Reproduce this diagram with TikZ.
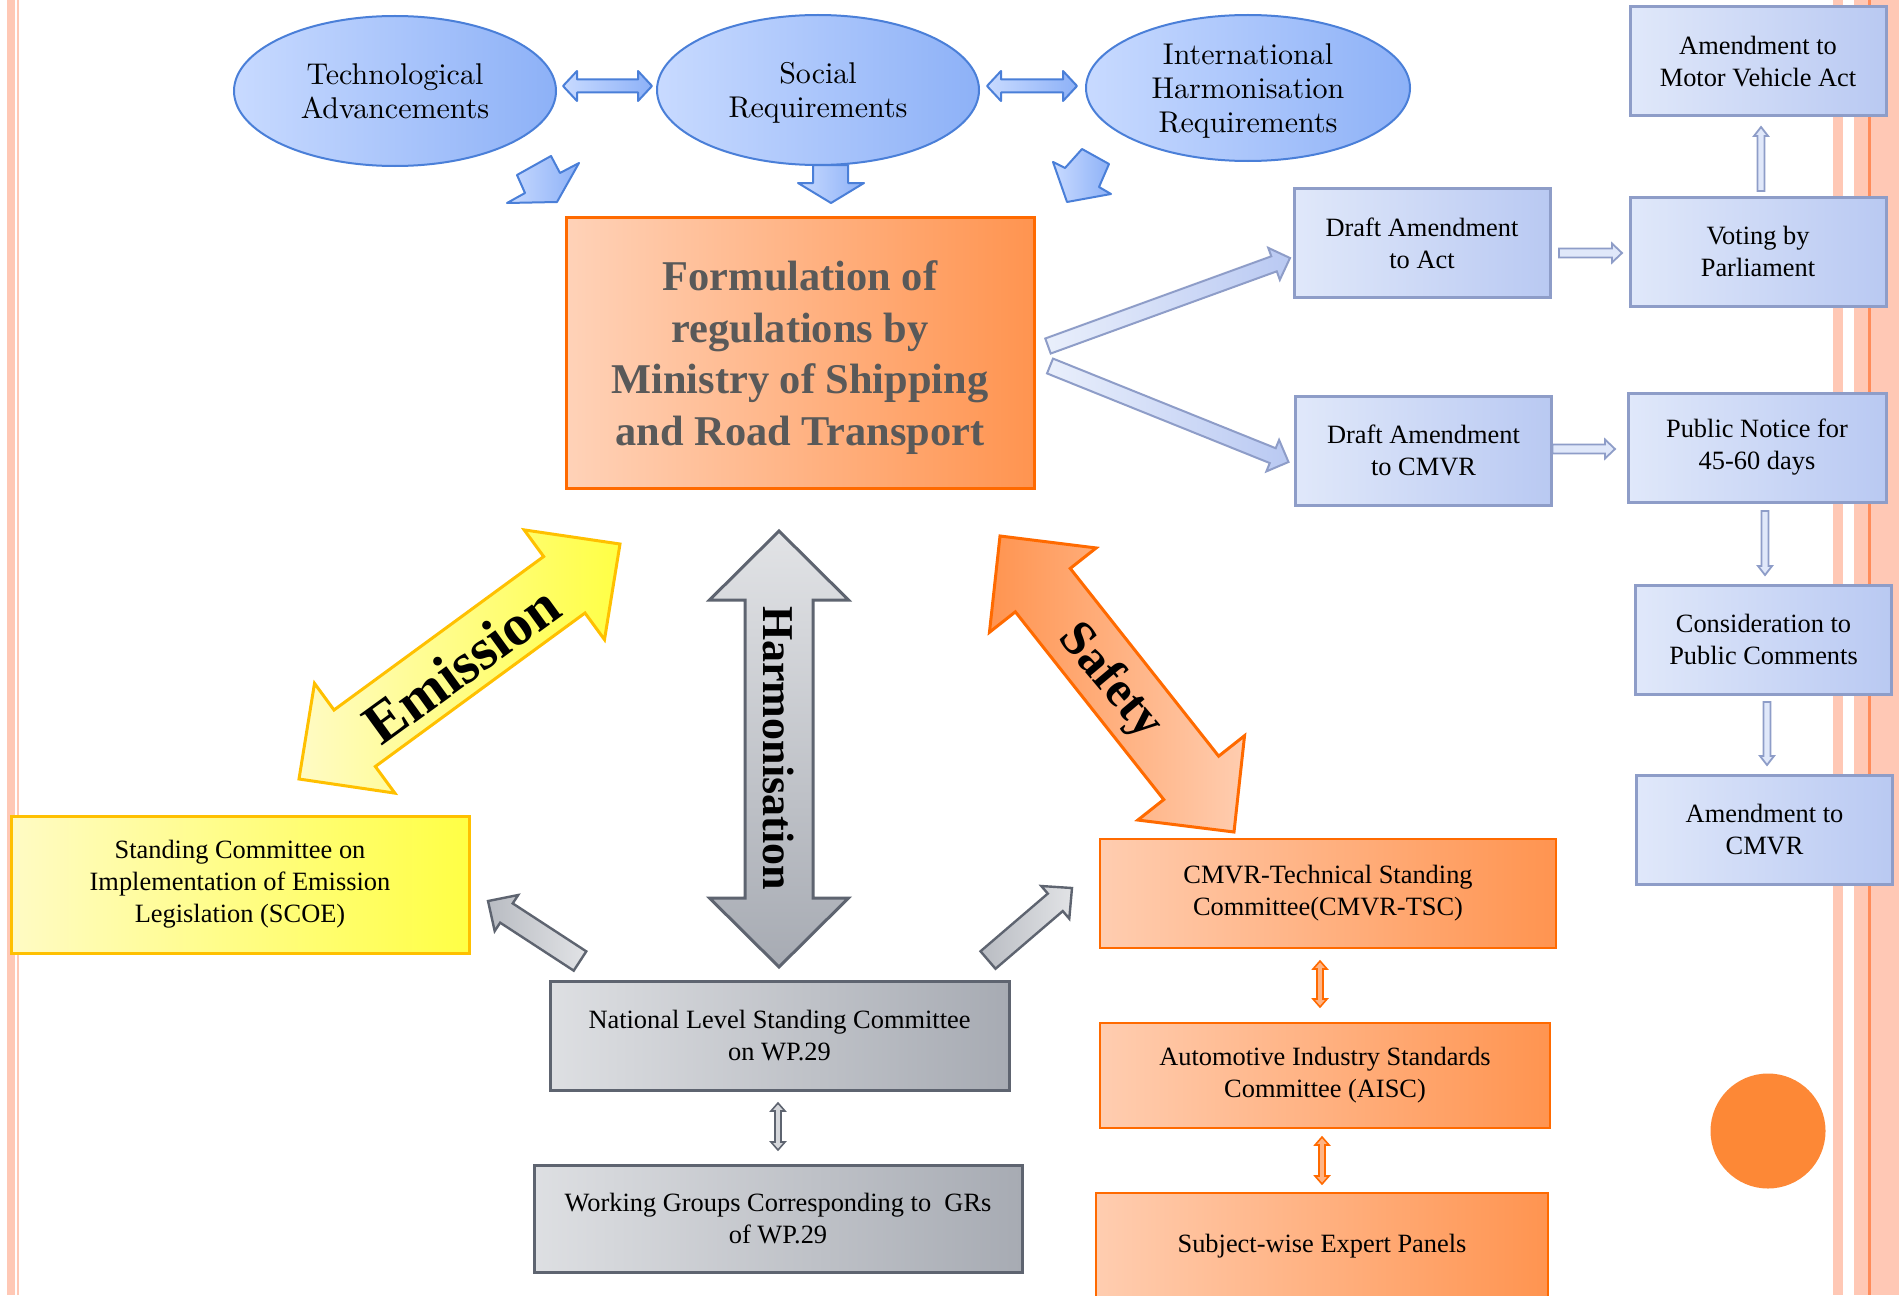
\documentclass[tikz,border=0pt]{standalone}
\usepackage{fontspec}
\setmainfont{Liberation Serif}
\newfontfamily\lmfont{lmroman10-regular.otf}
\usetikzlibrary{shapes.geometric,calc}
\definecolor{ellL}{HTML}{C8DAFF}
\definecolor{ellR}{HTML}{8DB1F7}
\definecolor{ellB}{HTML}{4A7FD8}
\definecolor{bbL}{HTML}{E0E8FA}
\definecolor{bbR}{HTML}{B9C9F2}
\definecolor{bbB}{HTML}{8E9DC8}
\definecolor{oL}{HTML}{FFCDB0}
\definecolor{oR}{HTML}{FF9450}
\definecolor{oB}{HTML}{FF6A00}
\definecolor{yL}{HTML}{FFFBC4}
\definecolor{yR}{HTML}{FFFF45}
\definecolor{yB}{HTML}{FFC000}
\definecolor{gL}{HTML}{D5D7DB}
\definecolor{gR}{HTML}{A7ABB3}
\definecolor{gB}{HTML}{5E6470}
\definecolor{circ}{HTML}{FD8836}
\definecolor{formT}{HTML}{595959}
\definecolor{pinkb}{HTML}{FFC8B5}
\definecolor{orgline}{HTML}{FF8C5A}
\newcommand\nodepth[1]{\raisebox{0pt}[\height][0pt]{#1}}
% #1 style, #2 from, #3 to, #4 head length, #5 head half width, #6 shaft half width (px)
\newcommand\fatdbl[6]{%
  \path let \p1=(#2), \p2=(#3) in \pgfextra{\xdef\fax{\x1}\xdef\fay{\y1}\xdef\fbx{\x2}\xdef\fby{\y2}};%
  \pgfmathsetmacro\faang{atan2((\fby)-(\fay),(\fbx)-(\fax))}%
  \pgfmathsetmacro\falen{veclen((\fbx)-(\fax),(\fby)-(\fay))}%
  \pgfmathsetmacro\fah{#4*0.5}%
  \pgfmathsetmacro\faW{#5*0.5}%
  \pgfmathsetmacro\faw{#6*0.5}%
  \pgfmathsetmacro\fam{\falen-\fah}%
  \begin{scope}[shift={(#2)},rotate=\faang]
    \draw[#1] (0pt,0pt) -- (\fah pt,\faW pt) -- (\fah pt,\faw pt) -- (\fam pt,\faw pt)
      -- (\fam pt,\faW pt) -- (\falen pt,0pt) -- (\fam pt,-\faW pt) -- (\fam pt,-\faw pt)
      -- (\fah pt,-\faw pt) -- (\fah pt,-\faW pt) -- cycle;
  \end{scope}}
\newcommand\fatone[6]{%
  \path let \p1=(#2), \p2=(#3) in \pgfextra{\xdef\fax{\x1}\xdef\fay{\y1}\xdef\fbx{\x2}\xdef\fby{\y2}};%
  \pgfmathsetmacro\faang{atan2((\fby)-(\fay),(\fbx)-(\fax))}%
  \pgfmathsetmacro\falen{veclen((\fbx)-(\fax),(\fby)-(\fay))}%
  \pgfmathsetmacro\fah{#4*0.5}%
  \pgfmathsetmacro\faW{#5*0.5}%
  \pgfmathsetmacro\faw{#6*0.5}%
  \pgfmathsetmacro\fam{\falen-\fah}%
  \begin{scope}[shift={(#2)},rotate=\faang]
    \draw[#1] (0pt,\faw pt) -- (\fam pt,\faw pt) -- (\fam pt,\faW pt) -- (\falen pt,0pt)
      -- (\fam pt,-\faW pt) -- (\fam pt,-\faw pt) -- (0pt,-\faw pt) -- cycle;
  \end{scope}}
\begin{document}
\begin{tikzpicture}[x=0.5pt,y=-0.5pt,
  every node/.style={outer sep=0pt,inner sep=0pt,align=center},
  ell/.style={ellipse,draw=ellB,line width=1pt,left color=ellL,right color=ellR,
    minimum width=161pt,minimum height=75pt,font=\lmfont\fontsize{15}{17}\selectfont},
  bbox/.style={rectangle,draw=bbB,line width=1.5pt,left color=bbL,right color=bbR,
    minimum width=128pt,minimum height=54.5pt,font=\fontsize{13.2}{16}\selectfont},
  obox/.style={rectangle,draw=oB,line width=1.3pt,left color=oL,right color=oR,
    font=\fontsize{13.2}{16}\selectfont},
  ybox/.style={rectangle,draw=yB,line width=1.5pt,left color=yL,right color=yR,
    font=\fontsize{13.2}{16}\selectfont},
  gbox/.style={rectangle,draw=gB,line width=1.5pt,left color=gL!80!white,right color=gR,
    font=\fontsize{13.2}{16}\selectfont},
  bluearr/.style={draw=ellB,line width=1pt,left color=ellL,right color=ellR,line join=round},
  thinarr/.style={draw=bbB,line width=0.9pt,fill=bbL,line join=miter},
  fatblue/.style={draw=bbB,line width=1pt,left color=bbL!70!white,right color=bbR,line join=miter},
  greyarr/.style={draw=gB,line width=1.2pt,left color=gR!80!white,right color=gL!70!white,line join=miter},
  thinorange/.style={draw=oB,line width=0.8pt,fill=oR!70!white},
  thingrey/.style={draw=gB,line width=0.8pt,fill=gL},
  emisarr/.style={draw=yB,line width=1.5pt,left color=yL,right color=yR,line join=miter},
  harmarr/.style={draw=gB,line width=1.5pt,top color=gL!70!white,bottom color=gR,line join=miter},
  safearr/.style={draw=oB,line width=1.5pt,left color=oR,right color=oL,line join=miter},
  biglabel/.style={font=\bfseries\fontsize{#1}{#1}\selectfont,text=black}
]
\useasboundingbox (0,0) rectangle (1899,1295);
\fill[white] (0,0) rectangle (1899,1295);
% page borders
\fill[pinkb] (7,0) rectangle (15,1295);
\fill[pinkb] (17,0) rectangle (19,1295);
\fill[pinkb] (1833,0) rectangle (1843,1295);
\fill[pinkb] (1854,0) rectangle (1899,1295);
\fill[orgline] (1868,0) rectangle (1871,1295);

% ellipses
\node[ell] (tech) at (395,91) {Technological\\Advancements};
\node[ell] (soc) at (818,90) {Social\\\nodepth{Requirements}};
\node[ell,minimum height=73pt,minimum width=162pt] (intl) at (1248,88) {International\\Harmonisation\\\nodepth{Requirements}};

% main box
\node[rectangle,draw=oB,line width=1.5pt,left color=oL!90!white,right color=oR,
  minimum width=234pt,minimum height=135.5pt] (form) at (800,352.5) {};
\node[text=formT,font=\bfseries\fontsize{21.2}{25.7}\selectfont] (formtext) at ($(form.center)+(0,5)$)
  {Formulation of\\regulations by\\Ministry of Shipping\\and Road Transport};

% right column
\node[bbox] (mva) at (1758,61.5) {Amendment to\\Motor Vehicle Act};
\node[bbox] (vote) at (1758,251.5) {Voting by\\Parliament};
\node[bbox] (dact) at (1422,243) {Draft Amendment\\to Act};
\node[bbox] (dcmvr) at (1423.5,450.5) {Draft Amendment\\to CMVR};
\node[bbox,minimum width=129pt] (pubn) at (1757,447.5) {Public Notice for\\45-60 days};
\node[bbox] (cons) at (1763.5,639.5) {Consideration to\\Public Comments};
\node[bbox] (acmvr) at (1764.5,829.5) {Amendment to\\CMVR};

% lower boxes
\node[ybox,minimum width=229pt,minimum height=68.5pt] (scoe) at (240,884.5)
  {Standing Committee on\\Implementation of Emission\\Legislation (SCOE)};
\node[gbox,minimum width=229.5pt,minimum height=54.5pt] (nat) at (779.5,1035.5)
  {National Level Standing Committee\\on WP.29};
\node[gbox,minimum width=244pt,minimum height=53.5pt] (wg) at (778,1218.5)
  {Working Groups Corresponding to\ \ GRs\\of WP.29};
\node[obox,minimum width=228pt,minimum height=54.5pt] (tsc) at (1328,893.5)
  {CMVR-Technical Standing\\Committee(CMVR-TSC)};
\node[obox,minimum width=225pt,minimum height=52.5pt] (aisc) at (1325,1075.5)
  {Automotive Industry Standards\\Committee (AISC)};
\node[obox,minimum width=226pt,minimum height=53.5pt] (swep) at (1322,1246.5)
  {Subject-wise Expert Panels};
\node[circle,fill=circ,minimum size=57.5pt] (dot) at (1768,1131) {};

% arrows between ellipses
\fatdbl{bluearr}{$(tech.east)+(7,-5)$}{$(soc.west)+(-5,-4)$}{14}{15}{6.5}
\fatdbl{bluearr}{$(soc.east)+(8,-4)$}{$(intl.west)+(-9,-2)$}{14}{15}{6.5}
% small arrows from ellipses to main box
\draw[bluearr] (507,203) -- (525,193) -- (517,175) -- (551,156) -- (560,173) -- (579,163) -- (557,202) -- cycle;
\draw[bluearr] (813,165) -- (848,165) -- (848,183) -- (864,183) -- (831,203) -- (798,183) -- (813,183) -- cycle;
\draw[bluearr] (1053,162) -- (1065,168) -- (1082,149) -- (1109,164) -- (1099,187) -- (1111,194) -- (1067,202) -- cycle;

% fat arrows to drafts
\fatone{fatblue}{$(form.east)+(14,-6.5)$}{$(dact.west)+(-4,15)$}{17}{17}{8}
\fatone{fatblue}{$(form.east)+(16,13.5)$}{$(dcmvr.west)+(-7,11.5)$}{17}{17}{8}
% thin arrows right column
\fatone{thinarr}{$(dact.east)+(9,10)$}{$(vote.west)+(-8,1.5)$}{10}{9.5}{4.5}
\fatone{thinarr}{$(vote.north)+(3,-6)$}{$(mva.south)+(3,11)$}{9}{7}{3.5}
\fatone{thinarr}{$(dcmvr.east)+(1,-1.5)$}{$(pubn.west)+(-13,1.5)$}{10}{9.5}{4.5}
\fatone{thinarr}{$(pubn.south)+(8,9)$}{$(cons.north)+(1.5,-10)$}{9}{7}{3.5}
\fatone{thinarr}{$(cons.south)+(3.5,8)$}{$(acmvr.north)+(2.5,-10)$}{9}{7}{3.5}

% grey arrows from national committee
\fatone{greyarr}{$(nat.north west)+(30,-20)$}{$(scoe.east)+(19,16.5)$}{22}{21.5}{11.5}
\fatone{greyarr}{$(nat.north east)+(-21,-21)$}{$(tsc.west)+(-28,-5.5)$}{22}{21.5}{11.5}
% small double arrows
\fatdbl{thingrey}{$(nat.south)+(-1.5,13)$}{$(wg.north)+(0,-15)$}{8}{7}{3}
\fatdbl{thinorange}{$(tsc.south)+(-8,13)$}{$(aisc.north)+(-5,-16)$}{8}{7}{3}
\fatdbl{thinorange}{$(aisc.south)+(-3,9)$}{$(swep.north)+(0,-9)$}{8}{7}{3}

% big double arrows
\coordinate (e1) at ($(scoe.north)+(59,-37)$);
\coordinate (e2) at ($(form.south west)+(54,56)$);
\fatdbl{emisarr}{e1}{e2}{69}{68}{35}
\node[biglabel=29,rotate=36] (lemis) at ($(e1)!0.5!(e2)+(2,3)$) {Emission};

\coordinate (h1) at ($(form.south)+(-21,43)$);
\coordinate (h2) at ($(nat.north)+(-0.5,-14)$);
\fatdbl{harmarr}{h1}{h2}{69}{69.5}{34}
\node[biglabel=22,rotate=-90] (lharm) at ($(h1)!0.5!(h2)+(0,-1)$) {Harmonisation};

\coordinate (s1) at ($(form.south east)+(-34,48)$);
\coordinate (s2) at ($(tsc.north)+(-94,-7)$);
\fatdbl{safearr}{s1}{s2}{69}{68}{35}
\node[biglabel=25,rotate=-50] (lsafe) at ($(s1)!0.5!(s2)+(-7,-2)$) {Safety};
\end{tikzpicture}
\end{document}
